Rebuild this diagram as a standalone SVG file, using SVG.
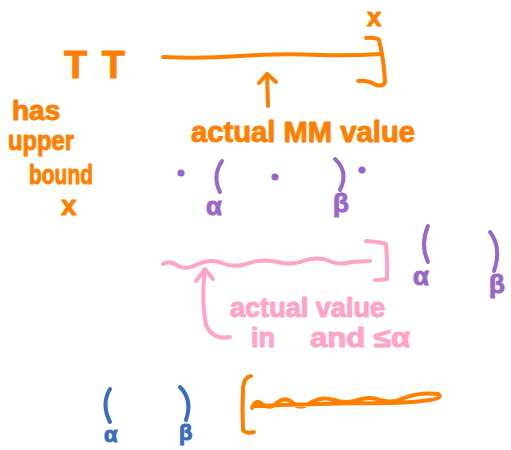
<svg xmlns="http://www.w3.org/2000/svg" width="511" height="450" viewBox="0 0 511 450">
  <style>
    .ink { fill: none; stroke-linecap: round; stroke-linejoin: round; stroke-width: 4; }
    .orange { stroke: #ff7f00; }
    .purple { stroke: #9b66cc; }
    .pink { stroke: #ffa3c9; }
    .blue { stroke: #3a6cc2; }
    .hand { font-family: "Liberation Sans", Arial, sans-serif; font-weight: bold; stroke-width: 1; stroke-linejoin: round; }
    .t-orange { fill: #ff7f00; stroke: #ff7f00; }
    .t-purple { fill: #9b66cc; stroke: #9b66cc; }
    .t-pink { fill: #ffa3c9; stroke: #ffa3c9; }
    .t-blue { fill: #3a6cc2; stroke: #3a6cc2; }
    .dot { stroke: none; }
  </style>
  <rect width="511" height="450" fill="#ffffff"/>

  <!-- Top: the search interval with upper bound x -->
  <g id="pi-interval">
    <text class="hand t-orange" x="64" y="78" font-size="38" letter-spacing="2">T T</text>
    <path class="ink orange" d="M163 57 Q200 59 240 56 Q280 53 320 55 Q350 56 381 54"/>
    <path class="ink orange" d="M366 38 Q376 37 379 40 Q384 60 385 82 Q384 87 376 85 Q368 80 358 81"/>
    <text class="hand t-orange" x="367" y="26" font-size="26">x</text>
  </g>

  <g id="upper-bound-note">
    <text class="hand t-orange" font-size="28">
      <tspan x="12" y="120">has</tspan>
      <tspan x="8" y="150" textLength="66" lengthAdjust="spacingAndGlyphs">upper</tspan>
      <tspan x="29" y="184" textLength="64" lengthAdjust="spacingAndGlyphs">bound</tspan>
      <tspan x="61" y="215">x</tspan>
    </text>
  </g>

  <g id="mm-value">
    <path class="ink orange" d="M268 106 L267 74"/>
    <path class="ink orange" d="M259 83 L267 74 L276 82"/>
    <text class="hand t-orange" x="191" y="142" font-size="30" textLength="224" lengthAdjust="spacingAndGlyphs">actual MM value</text>
  </g>

  <!-- Middle: window alpha..beta with sample points -->
  <g id="window-ab">
    <circle class="dot" cx="181" cy="173" r="3.6" fill="#9b66cc"/>
    <circle class="dot" cx="275" cy="177" r="3.6" fill="#9b66cc"/>
    <circle class="dot" cx="362" cy="170" r="3.6" fill="#9b66cc"/>
    <path class="ink purple" d="M222 161 Q212 176 220 192"/>
    <path class="ink purple" d="M335 159 Q349 172 340 190"/>
    <text class="hand t-purple" x="206" y="215" font-size="26">α</text>
    <text class="hand t-purple" x="333" y="212" font-size="26">β</text>
  </g>

  <!-- Fail-low case: actual value below alpha -->
  <g id="fail-low">
    <path class="ink pink" d="M163 264 Q170 260 178 266 Q186 270 196 265 Q210 258 222 263 Q234 268 246 264 Q262 258 278 262 Q292 266 306 260 Q320 256 332 262 Q340 265 352 262 L370 261"/>
    <path class="ink pink" d="M366 241 Q376 241 386 244 Q388 262 387 279 Q380 280 375 280"/>
    <path class="ink pink" d="M230 337 Q212 340 206 325 Q201 300 205 270"/>
    <path class="ink pink" d="M196 281 L205 269 L213 279"/>
    <text class="hand t-pink" font-size="27">
      <tspan x="230" y="317" textLength="155" lengthAdjust="spacingAndGlyphs">actual value</tspan>
      <tspan x="251" y="347">in</tspan>
      <tspan x="310" y="347" textLength="100" lengthAdjust="spacingAndGlyphs">and ≤α</tspan>
    </text>
  </g>

  <g id="window-ab-right">
    <path class="ink purple" d="M428 226 Q420 244 428 262"/>
    <path class="ink purple" d="M490 232 Q502 248 494 271"/>
    <text class="hand t-purple" x="413" y="285" font-size="26">α</text>
    <text class="hand t-purple" x="489" y="293" font-size="26">β</text>
  </g>

  <!-- Bottom: window with the interval above it -->
  <g id="window-ab-low">
    <path class="ink blue" d="M110 389 Q101 404 110 422"/>
    <path class="ink blue" d="M180 387 Q193 400 186 420"/>
    <text class="hand t-blue" x="104" y="442" font-size="22">α</text>
    <text class="hand t-blue" x="179" y="440" font-size="22">β</text>
  </g>

  <g id="fail-high">
    <path class="ink orange" d="M251 376 Q244 377 243 388 Q242 410 243 430 Q246 434 254 432"/>
    <path class="ink orange" stroke-width="5" d="M252 408 Q256 398 262 404 Q270 410 278 402 Q286 396 294 404 Q300 410 312 402 Q322 396 334 400 Q346 404 358 400 Q370 396 380 400 Q392 404 404 398 Q420 392 438 394 Q444 398 430 400 Q400 404 360 403 Q320 404 280 405 L254 406"/>
  </g>
</svg>
